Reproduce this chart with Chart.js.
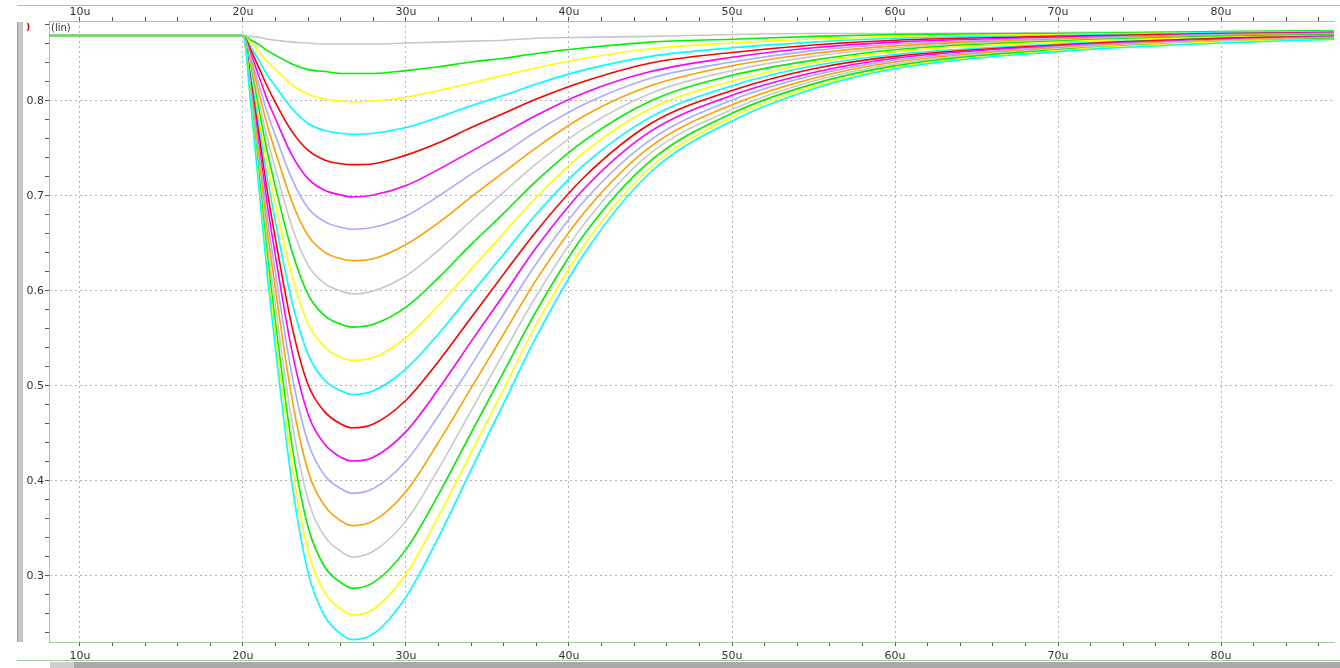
<!DOCTYPE html>
<html>
<head>
<meta charset="utf-8">
<script src="https://cdn.jsdelivr.net/npm/chart.js@4.4.1/dist/chart.umd.min.js"></script>
<style>
  body { margin: 0; background: #fff; }
  #wrap { position: relative; width: 1340px; height: 668px; overflow: hidden; }
  canvas { position: absolute; left: 0; top: 0; }
  .frame { position: absolute; background: #a3c9a3; height: 1px; }
  #vbar { position: absolute; left: 17px; top: 22px; width: 6px; height: 620px;
          background: #c6c6c6; border-left: 1px solid #9a9a9a; box-sizing: border-box; }
  #hbar { position: absolute; left: 50px; top: 662px; width: 1290px; height: 6px; background: #a9a9a9; }
  #thumb { position: absolute; left: 50px; top: 662px; width: 24px; height: 6px; background: #cfcfcf; }
  #lin { position: absolute; left: 51px; top: 22px; font: 10px "DejaVu Sans", sans-serif; color: #333; }
  #mark { position: absolute; left: 26px; top: 22px; font: bold 9px "DejaVu Sans", sans-serif; color: #e00000; }
</style>
</head>
<body>
<div id="wrap">
  <canvas id="myChart" width="1340" height="668"></canvas>
  <div class="frame" style="left:17px; top:5px; width:1323px;"></div>
  <div class="frame" style="left:17px; top:660px; width:1323px;"></div>
  <div id="vbar"></div>
  <div id="hbar"></div>
  <div id="thumb"></div>
  <div id="lin">(lin)</div>
  <div id="mark">)</div>
</div>
<script>
const ctx = document.getElementById("myChart");

// time points (u)
const times = [8.1, 20, 20.5, 21, 21.5, 22, 23, 24, 25, 26, 26.7, 28, 30, 32, 34, 36, 38, 41, 45, 50, 55, 60, 70, 80, 87];

// one trace per sweep step, shallow to deep
const s00 = [0.869, 0.869, 0.868, 0.867, 0.865, 0.864, 0.862, 0.861, 0.860, 0.860, 0.860, 0.860, 0.861, 0.862, 0.863, 0.864, 0.866, 0.867, 0.868, 0.870, 0.871, 0.871, 0.872, 0.873, 0.874];
const s01 = [0.869, 0.869, 0.864, 0.859, 0.853, 0.848, 0.839, 0.833, 0.831, 0.829, 0.829, 0.829, 0.832, 0.836, 0.841, 0.845, 0.850, 0.856, 0.862, 0.865, 0.868, 0.870, 0.871, 0.873, 0.874];
const s02 = [0.869, 0.869, 0.861, 0.851, 0.841, 0.833, 0.817, 0.807, 0.802, 0.800, 0.799, 0.800, 0.804, 0.811, 0.819, 0.827, 0.835, 0.845, 0.855, 0.861, 0.865, 0.868, 0.870, 0.872, 0.873];
const s03 = [0.869, 0.869, 0.856, 0.842, 0.827, 0.815, 0.792, 0.776, 0.769, 0.766, 0.765, 0.766, 0.772, 0.783, 0.795, 0.806, 0.818, 0.833, 0.847, 0.856, 0.862, 0.866, 0.869, 0.872, 0.873];
const s04 = [0.869, 0.869, 0.853, 0.834, 0.815, 0.798, 0.768, 0.748, 0.738, 0.734, 0.733, 0.734, 0.743, 0.756, 0.772, 0.787, 0.802, 0.821, 0.840, 0.851, 0.859, 0.864, 0.868, 0.871, 0.872];
const s05 = [0.869, 0.869, 0.849, 0.825, 0.801, 0.781, 0.743, 0.718, 0.706, 0.701, 0.699, 0.701, 0.711, 0.728, 0.747, 0.766, 0.785, 0.809, 0.831, 0.846, 0.856, 0.862, 0.867, 0.870, 0.872];
const s06 = [0.869, 0.869, 0.845, 0.816, 0.787, 0.763, 0.718, 0.687, 0.673, 0.667, 0.665, 0.667, 0.679, 0.700, 0.723, 0.745, 0.768, 0.797, 0.824, 0.841, 0.853, 0.860, 0.866, 0.870, 0.871];
const s07 = [0.869, 0.869, 0.841, 0.807, 0.774, 0.746, 0.694, 0.658, 0.641, 0.634, 0.632, 0.634, 0.649, 0.672, 0.699, 0.725, 0.751, 0.785, 0.816, 0.837, 0.850, 0.858, 0.865, 0.869, 0.871];
const s08 = [0.869, 0.869, 0.836, 0.798, 0.760, 0.728, 0.668, 0.627, 0.608, 0.600, 0.597, 0.600, 0.616, 0.643, 0.674, 0.704, 0.734, 0.772, 0.808, 0.832, 0.847, 0.856, 0.864, 0.868, 0.870];
const s09 = [0.869, 0.869, 0.832, 0.789, 0.746, 0.709, 0.642, 0.596, 0.574, 0.565, 0.562, 0.565, 0.583, 0.614, 0.649, 0.682, 0.716, 0.759, 0.800, 0.827, 0.843, 0.854, 0.863, 0.868, 0.870];
const s10 = [0.869, 0.869, 0.828, 0.780, 0.732, 0.691, 0.616, 0.565, 0.541, 0.530, 0.527, 0.530, 0.551, 0.585, 0.623, 0.661, 0.699, 0.747, 0.792, 0.821, 0.840, 0.852, 0.862, 0.867, 0.869];
const s11 = [0.869, 0.869, 0.824, 0.771, 0.718, 0.672, 0.589, 0.533, 0.506, 0.495, 0.491, 0.495, 0.518, 0.555, 0.597, 0.639, 0.681, 0.734, 0.783, 0.816, 0.837, 0.849, 0.860, 0.866, 0.869];
const s12 = [0.869, 0.869, 0.819, 0.762, 0.704, 0.654, 0.563, 0.501, 0.473, 0.460, 0.456, 0.460, 0.485, 0.526, 0.572, 0.618, 0.663, 0.721, 0.776, 0.811, 0.834, 0.847, 0.859, 0.866, 0.868];
const s13 = [0.869, 0.869, 0.815, 0.752, 0.690, 0.636, 0.537, 0.470, 0.439, 0.425, 0.421, 0.425, 0.452, 0.497, 0.547, 0.596, 0.646, 0.709, 0.768, 0.806, 0.830, 0.845, 0.858, 0.865, 0.868];
const s14 = [0.869, 0.869, 0.811, 0.744, 0.676, 0.618, 0.512, 0.440, 0.406, 0.392, 0.387, 0.392, 0.421, 0.469, 0.522, 0.576, 0.629, 0.696, 0.759, 0.801, 0.827, 0.843, 0.857, 0.864, 0.867];
const s15 = [0.869, 0.869, 0.807, 0.735, 0.663, 0.601, 0.487, 0.410, 0.374, 0.358, 0.353, 0.358, 0.389, 0.441, 0.498, 0.555, 0.612, 0.684, 0.752, 0.796, 0.824, 0.841, 0.856, 0.864, 0.867];
const s16 = [0.869, 0.869, 0.803, 0.726, 0.649, 0.584, 0.463, 0.380, 0.342, 0.326, 0.320, 0.326, 0.358, 0.413, 0.474, 0.535, 0.595, 0.672, 0.745, 0.791, 0.821, 0.839, 0.855, 0.863, 0.866];
const s17 = [0.869, 0.869, 0.799, 0.718, 0.636, 0.566, 0.438, 0.351, 0.310, 0.293, 0.287, 0.293, 0.328, 0.386, 0.451, 0.515, 0.579, 0.661, 0.737, 0.787, 0.818, 0.837, 0.854, 0.862, 0.866];
const s18 = [0.869, 0.869, 0.796, 0.710, 0.625, 0.552, 0.418, 0.326, 0.283, 0.265, 0.259, 0.265, 0.302, 0.363, 0.430, 0.497, 0.565, 0.650, 0.730, 0.783, 0.815, 0.835, 0.853, 0.862, 0.865];
const s19 = [0.869, 0.869, 0.793, 0.704, 0.615, 0.538, 0.398, 0.303, 0.258, 0.239, 0.233, 0.239, 0.278, 0.341, 0.412, 0.482, 0.552, 0.641, 0.725, 0.779, 0.813, 0.834, 0.852, 0.861, 0.865];

const traces = [s00, s01, s02, s03, s04, s05, s06, s07, s08, s09,
                s10, s11, s12, s13, s14, s15, s16, s17, s18, s19];

// colour cycle of the waveform viewer
const palette = ["#c8c8c8", "#00f000", "#ffff00", "#00ffff", "#ff0000", "#ff00ff", "#aaaaff", "#ffa000"];

// axis ticks
const xMajor = [10, 20, 30, 40, 50, 60, 70, 80];
const yMajor = [0.3, 0.4, 0.5, 0.6, 0.7, 0.8];
const xMin = 8.1, xMax = 86.93;
const yMin = 0.2305, yMax = 0.8842;

const xTicks = [];
for (let v = 10; v <= 86; v += 2) xTicks.push(v);
const yTicks = [];
for (let i = 12; i <= 44; i++) yTicks.push(i / 50);

const isXMajor = (v) => xMajor.includes(Math.round(v));
const isYMajor = (v) => yMajor.some(m => Math.abs(m - v) < 1e-6);

const axisGreen = "#a3c9a3";
const labelFont = { family: "DejaVu Sans", size: 11 };

function xScale(pos) {
  return {
    type: "linear",
    position: pos,
    min: xMin,
    max: xMax,
    afterBuildTicks: (s) => { s.ticks = xTicks.map(v => ({ value: v })); },
    afterFit: (s) => { s.height = pos === "top" ? 21 : 26; },
    ticks: {
      autoSkip: false,
      maxRotation: 0,
      padding: pos === "top" ? -2 : 4,
      color: "#333",
      font: labelFont,
      callback: (v) => isXMajor(v) ? Math.round(v) + "u" : ""
    },
    grid: {
      drawOnChartArea: pos === "bottom",
      color: (c) => (c.tick && isXMajor(c.tick.value)) ? "#b4b4b4" : "rgba(0,0,0,0)",
      tickColor: "#555",
      tickLength: 4,
      lineWidth: 1
    },
    border: { color: axisGreen, width: 1, dash: [2, 3] }
  };
}

const datasets = traces.map((d, i) => ({
  label: "v" + i,
  data: d.map((v, j) => ({ x: times[j], y: v })),
  borderColor: palette[i % palette.length],
  borderWidth: 1.6,
  pointRadius: 0,
  fill: false,
  cubicInterpolationMode: "monotone",
  order: traces.length - i
}));

let x = new Chart(ctx, {
  type: "line",
  data: { datasets: datasets },
  options: {
    responsive: false,
    animation: false,
    devicePixelRatio: 1,
    layout: { padding: { left: 0, right: 6, top: 0, bottom: 0 } },
    plugins: { legend: { display: false }, tooltip: { enabled: false } },
    scales: {
      x: xScale("bottom"),
      x2: xScale("top"),
      y: {
        type: "linear",
        min: yMin,
        max: yMax,
        afterBuildTicks: (s) => { s.ticks = yTicks.map(v => ({ value: v })); },
        afterFit: (s) => { s.width = 49; },
        ticks: {
          autoSkip: false,
          padding: 1,
          color: "#333",
          font: labelFont,
          callback: (v) => isYMajor(v) ? v.toFixed(1) : ""
        },
        grid: {
          color: (c) => (c.tick && isYMajor(c.tick.value)) ? "#b4b4b4" : "rgba(0,0,0,0)",
          tickColor: "#555",
          tickLength: 4
        },
        border: { color: axisGreen, width: 1, dash: [2, 3] }
      }
    }
  }
});
</script>
</body>
</html>
